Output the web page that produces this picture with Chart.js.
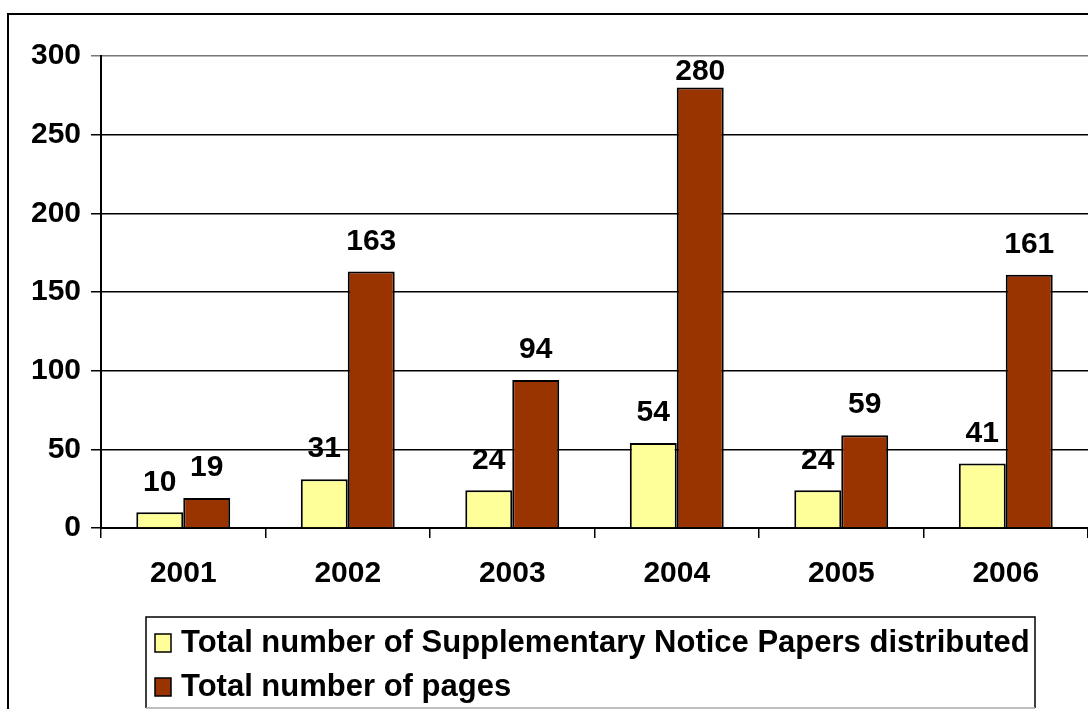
<!DOCTYPE html>
<html>
<head>
<meta charset="utf-8">
<script src="https://cdn.jsdelivr.net/npm/chart.js@4/dist/chart.umd.min.js"></script>
<style>
  html, body { margin: 0; padding: 0; background: #fff; }
  canvas { display: block; }
</style>
</head>
<body>
<canvas id="chart" width="1088" height="709"></canvas>
<script>
const years = ["2001", "2002", "2003", "2004", "2005", "2006"];
const papers = [10, 31, 24, 54, 24, 41];
const pages = [19, 163, 94, 280, 59, 161];
const seriesNames = [
  "Total number of Supplementary Notice Papers distributed",
  "Total number of pages",
];
const seriesColors = ["#FFFF99", "#993300"];

const FONT = "'Liberation Sans', Arial, sans-serif";

// white page plus the outer frame
const framePlugin = {
  id: "frame",
  beforeDraw(chart) {
    const ctx = chart.ctx;
    ctx.save();
    ctx.fillStyle = "#fff";
    ctx.fillRect(0, 0, chart.width, chart.height);
    ctx.strokeStyle = "#000";
    ctx.lineWidth = 2;
    ctx.strokeRect(8, 14, chart.width + 10, chart.height + 10);
    ctx.restore();
  },
};

// value labels above every bar, kept inside the plot area
const valueLabels = {
  id: "valueLabels",
  afterDatasetsDraw(chart) {
    const ctx = chart.ctx;
    const minY = chart.chartArea.top + 16;
    ctx.save();
    ctx.font = "bold 30px " + FONT;
    ctx.fillStyle = "#000";
    ctx.textAlign = "center";
    ctx.textBaseline = "middle";
    chart.data.datasets.forEach((ds, i) => {
      chart.getDatasetMeta(i).data.forEach((bar, j) => {
        ctx.fillText(String(ds.data[j]), bar.x, Math.max(bar.y - 30, minY));
      });
    });
    ctx.restore();
  },
};

// boxed legend under the axis
const boxLegend = {
  id: "boxLegend",
  afterDraw(chart) {
    const ctx = chart.ctx;
    const left = 146, top = 617, right = 1035, bottom = 708;
    ctx.save();
    ctx.lineWidth = 1.5;
    ctx.strokeStyle = "#000";
    ctx.beginPath();
    ctx.moveTo(left, bottom);
    ctx.lineTo(left, top);
    ctx.lineTo(right, top);
    ctx.lineTo(right, bottom);
    ctx.stroke();
    ctx.strokeStyle = "#aaa";
    ctx.beginPath();
    ctx.moveTo(left, bottom);
    ctx.lineTo(right, bottom);
    ctx.stroke();

    ctx.font = "bold 31px " + FONT;
    ctx.textBaseline = "middle";
    ctx.textAlign = "left";
    chart.data.datasets.forEach((ds, i) => {
      const cy = 643 + i * 44;
      ctx.fillStyle = ds.backgroundColor;
      ctx.fillRect(155, cy - 9, 16, 18);
      ctx.lineWidth = 1.5;
      ctx.strokeStyle = "#000";
      ctx.strokeRect(155, cy - 9, 16, 18);
      ctx.fillStyle = "#000";
      ctx.fillText(ds.label, 181, cy);
    });
    ctx.restore();
  },
};

new Chart(document.getElementById("chart"), {
  type: "bar",
  data: {
    labels: years,
    datasets: [
      {
        label: seriesNames[0],
        data: papers,
        backgroundColor: seriesColors[0],
        borderColor: "#000",
        borderWidth: 2,
      },
      {
        label: seriesNames[1],
        data: pages,
        backgroundColor: seriesColors[1],
        borderColor: "#000",
        borderWidth: 2,
      },
    ],
  },
  options: {
    responsive: false,
    animation: false,
    layout: { padding: { top: 56, right: 0, bottom: 0, left: 0 } },
    datasets: {
      bar: { categoryPercentage: 0.571, barPercentage: 1 },
    },
    plugins: {
      legend: { display: false },
      tooltip: { enabled: false },
    },
    scales: {
      x: {
        afterFit(scale) { scale.height = 709 - 528; },
        grid: {
          offset: true,
          drawOnChartArea: false,
          drawTicks: true,
          tickLength: 10,
          color: "#000",
          lineWidth: 1.5,
        },
        border: { color: "#000", width: 2 },
        ticks: {
          color: "#000",
          padding: 18,
          font: { family: FONT, size: 30, weight: "bold" },
        },
      },
      y: {
        min: 0,
        max: 300,
        afterFit(scale) { scale.width = 101; },
        grid: {
          color: (c) => (c.tick && c.tick.value === 300 ? "#777" : "#000"),
          lineWidth: 1.5,
          tickLength: 10,
        },
        border: { color: "#000", width: 2 },
        ticks: {
          stepSize: 50,
          color: "#000",
          padding: 10,
          font: { family: FONT, size: 30, weight: "bold" },
        },
      },
    },
  },
  plugins: [framePlugin, valueLabels, boxLegend],
});
</script>
</body>
</html>
